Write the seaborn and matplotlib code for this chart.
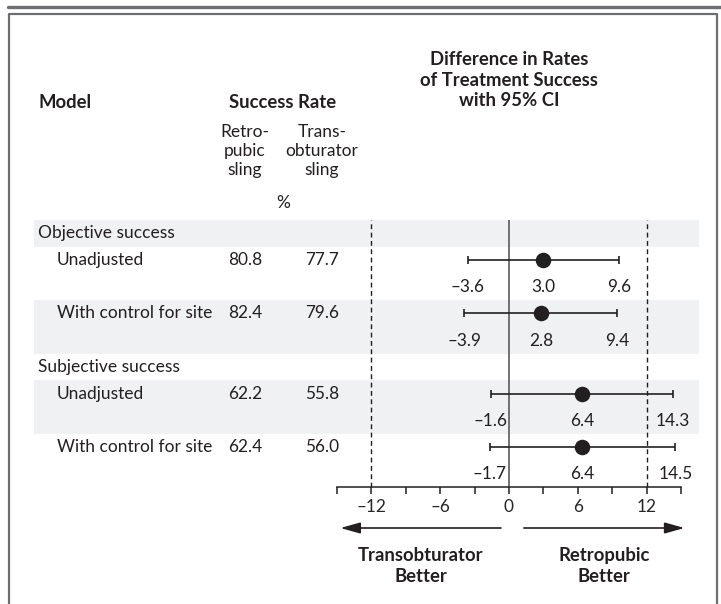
import numpy as np
import pandas as pd
import matplotlib
matplotlib.use("Agg")
import matplotlib.pyplot as plt
import matplotlib.transforms as mtransforms
from matplotlib.lines import Line2D
import seaborn as sns

# rows of the table
groups = ["Objective success", "Subjective success"]
models = ["Unadjusted", "With control for site"]
retro_rate = [80.8, 82.4, 62.2, 62.4]
trans_rate = [77.7, 79.6, 55.8, 56.0]
diff_est = [3.0, 2.8, 6.4, 6.4]
diff_lo = [-3.6, -3.9, -1.6, -1.7]
diff_hi = [9.6, 9.4, 14.3, 14.5]
major_ticks = [-12, -6, 0, 6, 12]
minor_ticks = [-15, -9, -3, 3, 9, 15]

W, H = 721, 604
TXT = "#231f20"
BAND = "#f0f1f3"
FRAME = "#6d6e71"
FS = 12.5      # body text
FS_NUM = 12.4  # numbers
FS_B = 13.3    # bold headers


def fx(px):
    return px / W


def fy(py):
    return 1 - py / H


def dash(v, fmt="{:.1f}"):
    return fmt.format(v).replace("-", "\u2013")


def main():
    sns.set_theme(style="white")
    plt.rcParams["font.family"] = ["Lato", "DejaVu Sans"]
    plt.rcParams["text.color"] = TXT

    # row layout: header = 1 unit, model row = 2 units (estimate + CI labels)
    row_y, head_y = [], []
    y = 0.0
    for g in groups:
        head_y.append(y + 0.5)
        y += 1
        for m in models:
            row_y.append(y + 0.5)
            y += 2
    n_units = y

    df = pd.DataFrame({
        "group": np.repeat(groups, len(models)),
        "model": models * len(groups),
        "retro": retro_rate,
        "trans": trans_rate,
        "est": diff_est,
        "lo": diff_lo,
        "hi": diff_hi,
        "y": row_y,
    })

    fig = plt.figure(figsize=(W / 100, H / 100), dpi=100)
    ax = fig.add_axes([fx(337), fy(487), fx(681) - fx(337), (487 - 220) / H])
    ax.set_xlim(-15, 15)
    ax.set_ylim(n_units, 0)

    # alternating shaded bands across the full table width
    xmin_ax = (34 - 337) / (681 - 337)
    xmax_ax = (699 - 337) / (681 - 337)
    shade = [(0, 1), (row_y[1] - 0.5, row_y[1] + 1.5), (row_y[2] - 0.5, row_y[2] + 1.5)]
    for y0, y1 in shade:
        ax.axhspan(y0, y1, xmin=xmin_ax, xmax=xmax_ax, color=BAND, lw=0, zorder=0, clip_on=False)

    ax.axvline(0, color="#4d4d4f", lw=1.1, zorder=1)
    for v in (-12, 12):
        ax.axvline(v, color=TXT, lw=1.0, ls=(0, (3.5, 2.5)), zorder=1)

    ax.errorbar(df["est"], df["y"], xerr=[df["est"] - df["lo"], df["hi"] - df["est"]],
                fmt="none", ecolor=TXT, elinewidth=1.2, capsize=3, capthick=1.2, zorder=2)
    sns.scatterplot(data=df, x="est", y="y", ax=ax, s=125, color=TXT,
                    edgecolor=TXT, linewidth=0, zorder=3, legend=False)

    for _, r in df.iterrows():
        for v in (r["lo"], r["est"], r["hi"]):
            ax.text(v, r["y"] + 1.02, dash(v), ha="center", va="center", fontsize=FS_NUM)

    # axis
    for s in ("top", "left", "right"):
        ax.spines[s].set_visible(False)
    ax.spines["bottom"].set_color(TXT)
    ax.spines["bottom"].set_linewidth(1.1)
    ax.set_xticks(major_ticks)
    ax.set_xticklabels([dash(t, "{:d}") for t in major_ticks], fontsize=FS_NUM)
    ax.set_xticks(minor_ticks, minor=True)
    ax.tick_params(axis="x", which="both", direction="out", length=5, width=1.1,
                   color=TXT, bottom=True, pad=4)
    ax.set_yticks([])
    ax.set_xlabel("")
    ax.set_ylabel("")

    # left table text
    blend = mtransforms.blended_transform_factory(fig.transFigure, ax.transData)
    for g, hy in zip(groups, head_y):
        ax.text(fx(38), hy, g, transform=blend, ha="left", va="center", fontsize=FS)
    for _, r in df.iterrows():
        ax.text(fx(57), r["y"], r["model"], transform=blend, ha="left", va="center", fontsize=FS)
        ax.text(fx(245), r["y"], f"{r['retro']:.1f}", transform=blend, ha="center", va="center", fontsize=FS_NUM)
        ax.text(fx(322), r["y"], f"{r['trans']:.1f}", transform=blend, ha="center", va="center", fontsize=FS_NUM)

    # headers
    fig.text(fx(38), fy(102), "Model", ha="left", va="center", fontsize=FS_B, fontweight="bold")
    fig.text(fx(283), fy(102), "Success Rate", ha="center", va="center", fontsize=FS_B, fontweight="bold")
    fig.text(fx(245), fy(151), "Retro-\npubic\nsling", ha="center", va="center",
             fontsize=FS, linespacing=1.25)
    fig.text(fx(322), fy(151), "Trans-\nobturator\nsling", ha="center", va="center",
             fontsize=FS, linespacing=1.25)
    fig.text(fx(283), fy(203), "%", ha="center", va="center", fontsize=FS)
    fig.text(fx(509), fy(80), "Difference in Rates\nof Treatment Success\nwith 95% CI",
             ha="center", va="center", fontsize=FS_B, fontweight="bold", linespacing=1.22)

    # direction arrows and labels
    bl2 = mtransforms.blended_transform_factory(ax.transData, fig.transFigure)
    arr = dict(arrowstyle="-|>,head_length=1.0,head_width=0.28", color=TXT, lw=1.2, shrinkA=0, shrinkB=0)
    ax.annotate("", xy=(-14.7, fy(528)), xytext=(-0.7, fy(528)), xycoords=bl2, textcoords=bl2,
                arrowprops=arr, annotation_clip=False)
    ax.annotate("", xy=(15.3, fy(528)), xytext=(1.3, fy(528)), xycoords=bl2, textcoords=bl2,
                arrowprops=arr, annotation_clip=False)
    ax.text(-7.7, fy(566), "Transobturator\nBetter", transform=bl2, ha="center", va="center",
            fontsize=FS_B, fontweight="bold", linespacing=1.25)
    ax.text(8.3, fy(566), "Retropubic\nBetter", transform=bl2, ha="center", va="center",
            fontsize=FS_B, fontweight="bold", linespacing=1.25)

    # frame
    fig.add_artist(Line2D([fx(8), 1], [fy(7), fy(7)], color=FRAME, lw=2.4))
    fig.add_artist(Line2D([fx(9), fx(9), fx(717), fx(717)], [0, fy(14), fy(14), 0], color=FRAME, lw=1.6))

    fig.savefig("out.png", dpi=100)
    plt.close(fig)


if __name__ == "__main__":
    main()
